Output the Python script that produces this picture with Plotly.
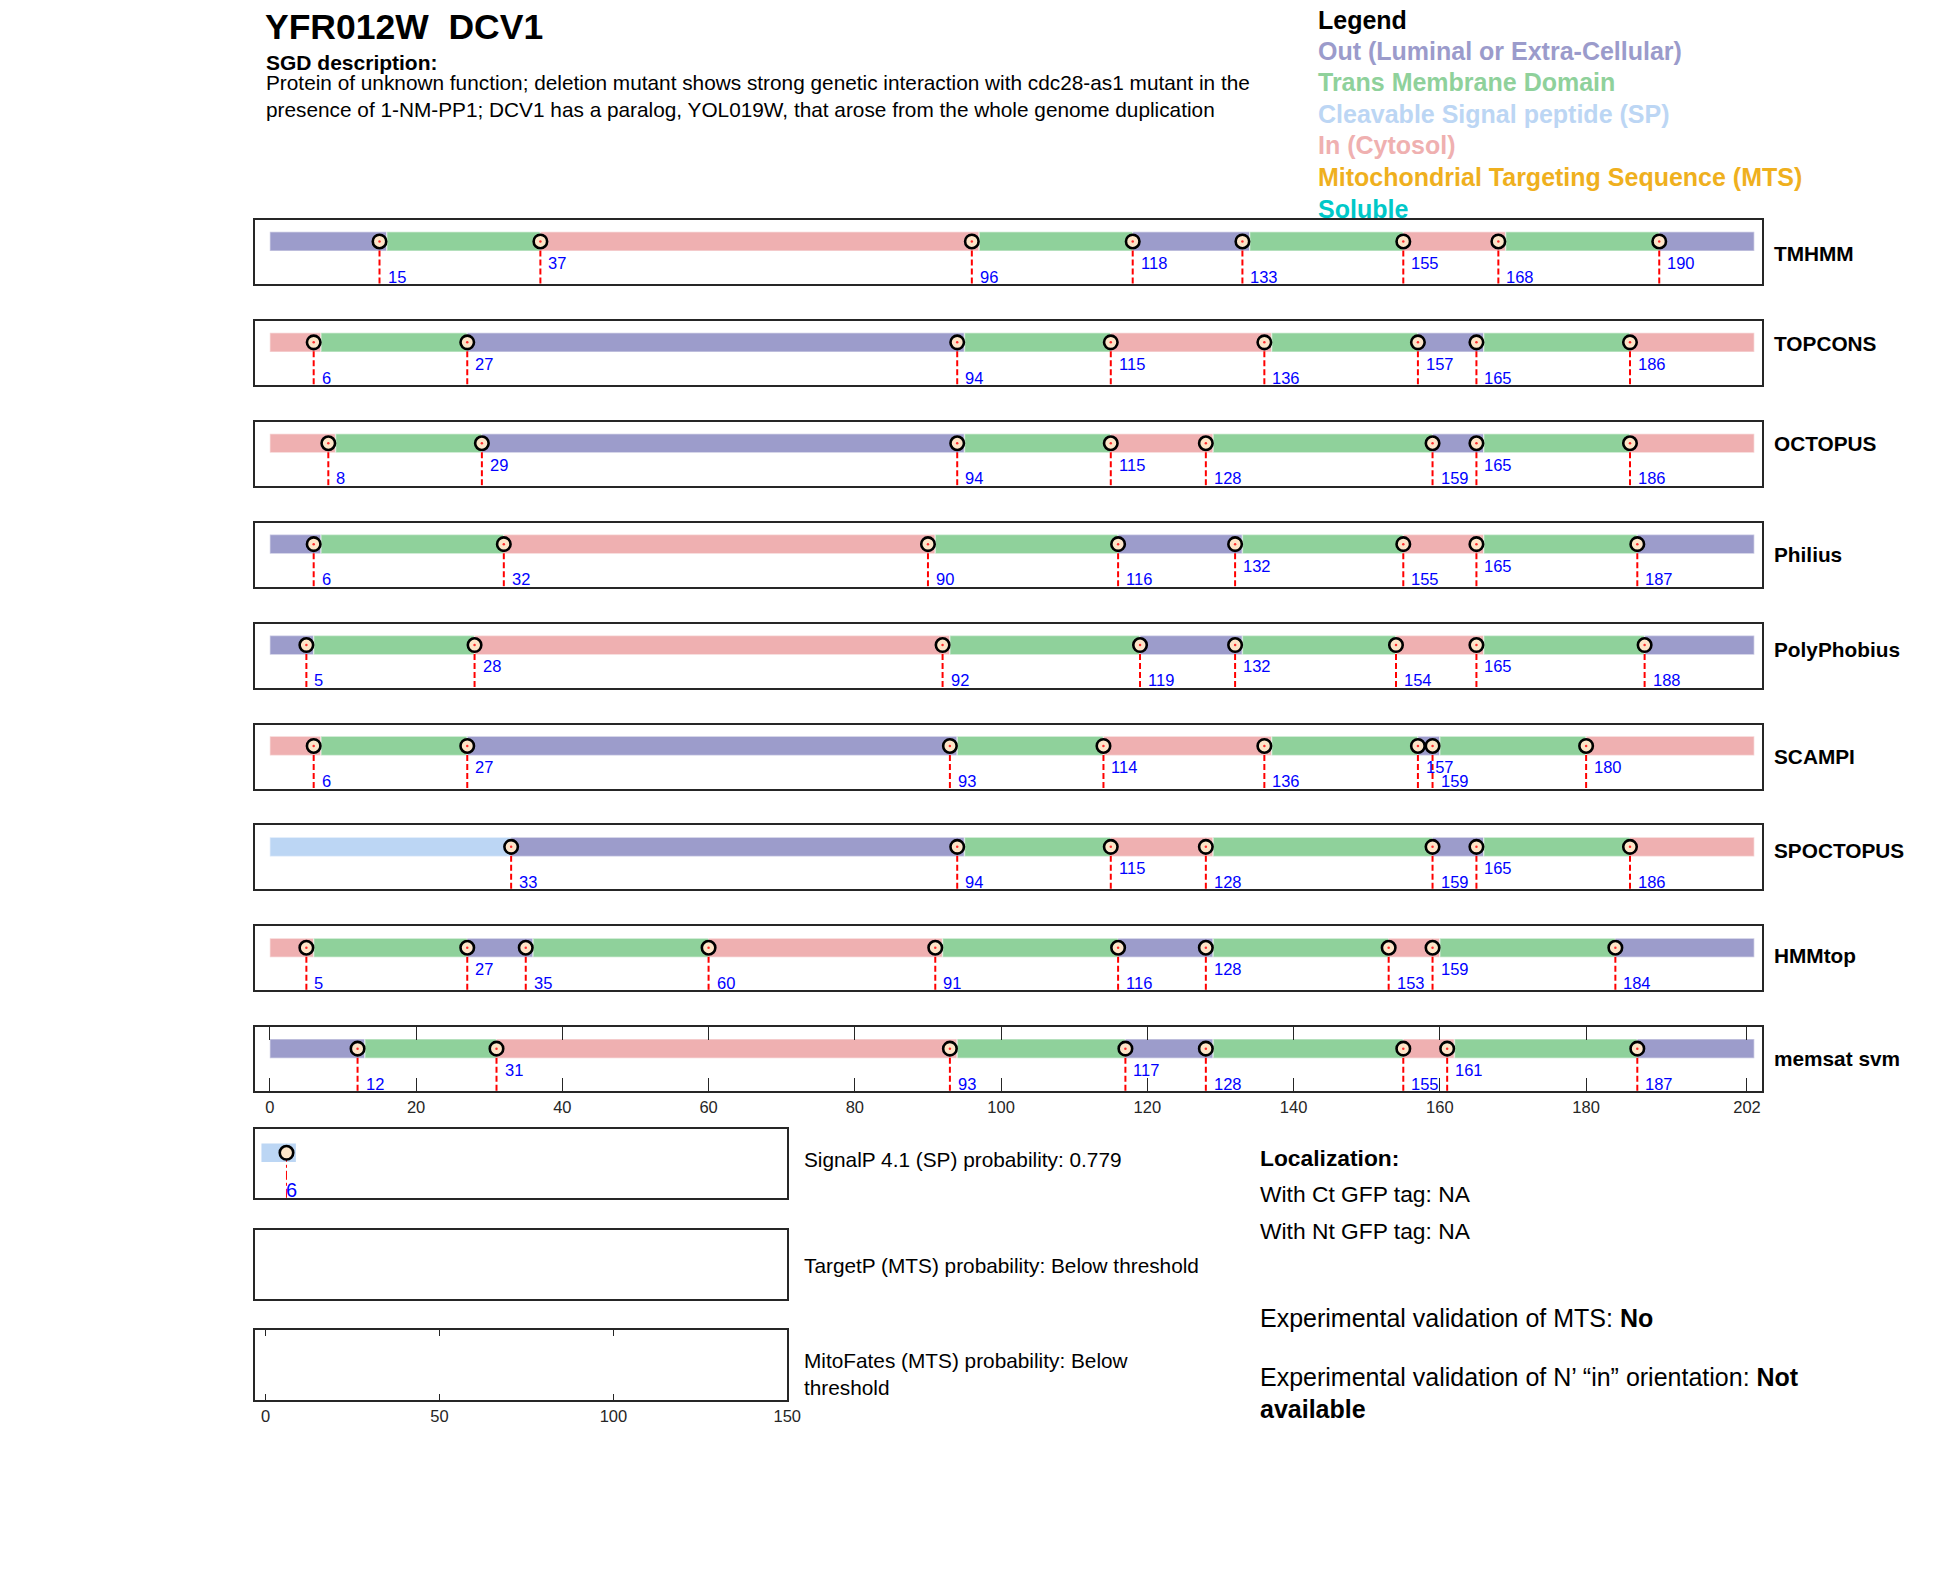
import plotly.graph_objects as go

# page is 1950x1573; the html body adds an 8px margin, so the figure is slightly smaller
PAGE_OFF = 8
WF, HF = 1920, 1540

# ---------------- data ----------------
gene_title = "YFR012W  DCV1"
sgd_header = "SGD description:"
sgd_lines = [
    "Protein of unknown function; deletion mutant shows strong genetic interaction with cdc28-as1 mutant in the",
    "presence of 1-NM-PP1; DCV1 has a paralog, YOL019W, that arose from the whole genome duplication",
]
protein_length = 202

predictors = ["TMHMM", "TOPCONS", "OCTOPUS", "Philius", "PolyPhobius",
              "SCAMPI", "SPOCTOPUS", "HMMtop", "memsat svm"]

tmhmm_pos = [15, 37, 96, 118, 133, 155, 168, 190]
tmhmm_states = ["Out", "TM", "In", "TM", "Out", "TM", "In", "TM", "Out"]
topcons_pos = [6, 27, 94, 115, 136, 157, 165, 186]
topcons_states = ["In", "TM", "Out", "TM", "In", "TM", "Out", "TM", "In"]
octopus_pos = [8, 29, 94, 115, 128, 159, 165, 186]
octopus_states = ["In", "TM", "Out", "TM", "In", "TM", "Out", "TM", "In"]
philius_pos = [6, 32, 90, 116, 132, 155, 165, 187]
philius_states = ["Out", "TM", "In", "TM", "Out", "TM", "In", "TM", "Out"]
polyphobius_pos = [5, 28, 92, 119, 132, 154, 165, 188]
polyphobius_states = ["Out", "TM", "In", "TM", "Out", "TM", "In", "TM", "Out"]
scampi_pos = [6, 27, 93, 114, 136, 157, 159, 180]
scampi_states = ["In", "TM", "Out", "TM", "In", "TM", "Out", "TM", "In"]
spoctopus_pos = [33, 94, 115, 128, 159, 165, 186]
spoctopus_states = ["SP", "Out", "TM", "In", "TM", "Out", "TM", "In"]
hmmtop_pos = [5, 27, 35, 60, 91, 116, 128, 153, 159, 184]
hmmtop_states = ["In", "TM", "Out", "TM", "In", "TM", "Out", "TM", "In", "TM", "Out"]
memsat_pos = [12, 31, 93, 117, 128, 155, 161, 187]
memsat_states = ["Out", "TM", "In", "TM", "Out", "TM", "In", "TM", "Out"]

all_pos = [tmhmm_pos, topcons_pos, octopus_pos, philius_pos, polyphobius_pos,
           scampi_pos, spoctopus_pos, hmmtop_pos, memsat_pos]
all_states = [tmhmm_states, topcons_states, octopus_states, philius_states, polyphobius_states,
              scampi_states, spoctopus_states, hmmtop_states, memsat_states]

main_ticks = [0, 20, 40, 60, 80, 100, 120, 140, 160, 180, 202]

signalp_cleavage = 6
signalp_text = "SignalP 4.1 (SP) probability: 0.779"
targetp_text = "TargetP (MTS) probability: Below threshold"
mitofates_lines = ["MitoFates (MTS) probability: Below", "threshold"]
small_ticks = [0, 50, 100, 150]

legend_labels = ["Out (Luminal or Extra-Cellular)", "Trans Membrane Domain",
                 "Cleavable Signal peptide (SP)", "In (Cytosol)",
                 "Mitochondrial Targeting Sequence (MTS)", "Soluble"]
legend_colors = ["#9b9bcb", "#8fd19b", "#bcd6f4", "#efb0b0", "#efb01e", "#00c8c8"]

state_colors = {"Out": "#9c9ccb", "TM": "#8fd19b", "SP": "#bcd6f4", "In": "#efb0b1"}

loc_header = "Localization:"
loc_lines = ["With Ct GFP tag: NA", "With Nt GFP tag: NA"]
exp_mts = ("Experimental validation of MTS: ", "No")
exp_orient = ("Experimental validation of N\u2019 \u201cin\u201d orientation: ", "Not", "available")

# ---------------- layout helpers ----------------
FONT = "Liberation Sans, Arial, sans-serif"
BOXC = "#262626"

def py(px):
    return 1 - (px - PAGE_OFF) / HF

def px_x(px):
    return (px - PAGE_OFF) / WF

fig = go.Figure()
annotations = []

panel_label_frac = [0.47, 0.64, 0.66, 0.50, 0.59, 0.50, 0.61, 0.55, 0.51]

BAR_Y = 0.665
BAR_W = 0.30
UP_Y = 0.33
LOW_Y = 0.115

MAIN_X = (257, 1774.5)
SMALL_X = (257, 793)

MARKER = dict(size=13.5, color="#fde5c8", line=dict(color="#000000", width=2.6))

for i, name in enumerate(predictors):
    n = i + 1
    xa = "x" if n == 1 else f"x{n}"
    ya = "y" if n == 1 else f"y{n}"
    top = 220 + 100.9 * i
    bot = top + 64
    is_last = (i == len(predictors) - 1)
    xdict = dict(domain=[px_x(MAIN_X[0]), px_x(MAIN_X[1])], range=[-2, protein_length + 2],
                 anchor=ya, showgrid=False, zeroline=False, showline=True,
                 linecolor=BOXC, linewidth=1.5, mirror="ticks" if is_last else True,
                 fixedrange=True)
    if is_last:
        xdict.update(tickmode="array", tickvals=main_ticks, ticktext=[str(t) for t in main_ticks],
                     ticks="inside", ticklen=13, tickwidth=1, tickcolor=BOXC,
                     tickfont=dict(family=FONT, size=16.5, color=BOXC), showticklabels=True)
    else:
        xdict.update(showticklabels=False, ticks="")
    ydict = dict(domain=[py(bot), py(top)], range=[0, 1], anchor=xa, showgrid=False,
                 zeroline=False, showline=True, linecolor=BOXC, linewidth=1.5, mirror=True,
                 showticklabels=False, ticks="", fixedrange=True)
    fig.update_layout(**{("xaxis" if n == 1 else f"xaxis{n}"): xdict,
                         ("yaxis" if n == 1 else f"yaxis{n}"): ydict})

    pos = all_pos[i]
    states = all_states[i]
    edges = [0] + pos + [protein_length]
    for k, st in enumerate(states):
        a, b = edges[k], edges[k + 1]
        if st == "TM":
            s0, s1 = a + 1, b
        else:
            s0, s1 = a, b + 1
        fig.add_trace(go.Bar(x=[s1 - s0], base=[s0], y=[BAR_Y], orientation="h", width=BAR_W,
                             marker=dict(color=state_colors[st],
                                         line=dict(color="rgba(255,255,255,0.45)", width=1.5)),
                             xaxis=xa, yaxis=ya, hoverinfo="skip"))
    lx, ly = [], []
    for p in pos:
        lx += [p, p, None]
        ly += [BAR_Y, 0, None]
    fig.add_trace(go.Scatter(x=lx, y=ly, mode="lines", xaxis=xa, yaxis=ya,
                             line=dict(color="#ff0000", width=2, dash="6px,3px"), hoverinfo="skip"))
    fig.add_trace(go.Scatter(x=pos, y=[BAR_Y] * len(pos), mode="markers", xaxis=xa, yaxis=ya,
                             marker=MARKER, hoverinfo="skip"))
    fig.add_trace(go.Scatter(x=pos, y=[BAR_Y] * len(pos), mode="markers", xaxis=xa, yaxis=ya,
                             marker=dict(size=2.5, color="#ff3030"), hoverinfo="skip"))
    # label levels: lift a label when close to a preceding lower label
    prev_low = False
    prev_p = None
    for p in pos:
        upper = prev_low and (p - prev_p) < 25
        annotations.append(dict(x=p, y=UP_Y if upper else LOW_Y, xref=xa, yref=ya,
                                text=str(p), showarrow=False, xanchor="left", yanchor="middle",
                                xshift=6, font=dict(family=FONT, size=16.5, color="#0000ff")))
        prev_low = not upper
        prev_p = p
    # predictor name
    annotations.append(dict(x=px_x(1785), y=py(bot - 64 * panel_label_frac[i]), xref="paper", yref="paper",
                            text=f"<b>{name}</b>", showarrow=False, xanchor="left", yanchor="middle",
                            font=dict(family=FONT, size=20.8, color="#000000")))

# ---------------- small panels ----------------
small_panels = [(1129, 1198), (1230, 1299), (1330, 1400)]
for j, (top, bot) in enumerate(small_panels):
    n = 10 + j
    xa, ya = f"x{n}", f"y{n}"
    is_last = (j == 2)
    xdict = dict(domain=[px_x(SMALL_X[0]), px_x(SMALL_X[1])], range=[-3, 150], anchor=ya, showgrid=False,
                 zeroline=False, showline=True, linecolor=BOXC, linewidth=1.5,
                 mirror="ticks" if is_last else True, fixedrange=True)
    if is_last:
        xdict.update(tickmode="array", tickvals=small_ticks, ticktext=[str(t) for t in small_ticks],
                     ticks="inside", ticklen=6, tickwidth=1, tickcolor=BOXC,
                     tickfont=dict(family=FONT, size=16.5, color=BOXC), showticklabels=True)
    else:
        xdict.update(showticklabels=False, ticks="")
    ydict = dict(domain=[py(bot), py(top)], range=[0, 1], anchor=xa, showgrid=False,
                 zeroline=False, showline=True, linecolor=BOXC, linewidth=1.5, mirror=True,
                 showticklabels=False, ticks="", fixedrange=True)
    fig.update_layout(**{f"xaxis{n}": xdict, f"yaxis{n}": ydict})
    # an invisible placeholder so that the empty panel's frame is drawn
    fig.add_trace(go.Scatter(x=[-100], y=[-100], mode="markers", xaxis=xa, yaxis=ya,
                             marker=dict(opacity=0), hoverinfo="skip"))

# SignalP content
sp_y = 0.655
fig.add_trace(go.Bar(x=[signalp_cleavage + 2.7 + 1.2], base=[-1.2], y=[sp_y], orientation="h",
                     width=0.27, marker=dict(color=state_colors["SP"], line=dict(width=0)),
                     xaxis="x10", yaxis="y10", hoverinfo="skip"))
fig.add_trace(go.Scatter(x=[signalp_cleavage, signalp_cleavage], y=[sp_y, 0], mode="lines",
                         xaxis="x10", yaxis="y10",
                         line=dict(color="#ff0000", width=1, dash="dashdot"), hoverinfo="skip"))
fig.add_trace(go.Scatter(x=[signalp_cleavage], y=[sp_y], mode="markers", xaxis="x10", yaxis="y10",
                         marker=MARKER, hoverinfo="skip"))
annotations.append(dict(x=signalp_cleavage, y=0.12, xref="x10", yref="y10", text=str(signalp_cleavage),
                        showarrow=False, xanchor="left", yanchor="middle", xshift=-2,
                        font=dict(family=FONT, size=20, color="#0000ff")))

def txt(x, y, text, size, anchor="left", color="#000000"):
    annotations.append(dict(x=px_x(x), y=py(y), xref="paper", yref="paper", text=text,
                            showarrow=False, xanchor=anchor, yanchor="middle",
                            font=dict(family=FONT, size=size, color=color)))

txt(808, 1159, signalp_text, 20.8)
txt(808, 1265, targetp_text, 20.8)
txt(808, 1360, mitofates_lines[0], 20.8)
txt(808, 1387, mitofates_lines[1], 20.8)

# ---------------- header texts ----------------
txt(264.5, 27, f"<b>{gene_title}</b>", 35.5)
txt(265.5, 63, f"<b>{sgd_header}</b>", 21)
txt(265.5, 83, sgd_lines[0], 20.8)
txt(265.5, 109, sgd_lines[1], 20.8)

txt(1326, 19.5, "<b>Legend</b>", 25)
for k, (lab, col) in enumerate(zip(legend_labels, legend_colors)):
    txt(1326, 50.5 + 31.6 * k, f"<b>{lab}</b>", 25, color=col)

# ---------------- localization texts ----------------
txt(1267, 1158, f"<b>{loc_header}</b>", 22.8)
txt(1267, 1194, loc_lines[0], 22.8)
txt(1267, 1231, loc_lines[1], 22.8)
txt(1267, 1318, f"{exp_mts[0]}<b>{exp_mts[1]}</b>", 25)
txt(1267, 1377, f"{exp_orient[0]}<b>{exp_orient[1]}</b>", 25)
txt(1267, 1409, f"<b>{exp_orient[2]}</b>", 25)

fig.update_layout(width=WF, height=HF, margin=dict(l=0, r=0, t=0, b=0),
                  paper_bgcolor="white", plot_bgcolor="white", showlegend=False,
                  barmode="overlay", annotations=annotations,
                  font=dict(family=FONT))

fig.write_html("out.html")
